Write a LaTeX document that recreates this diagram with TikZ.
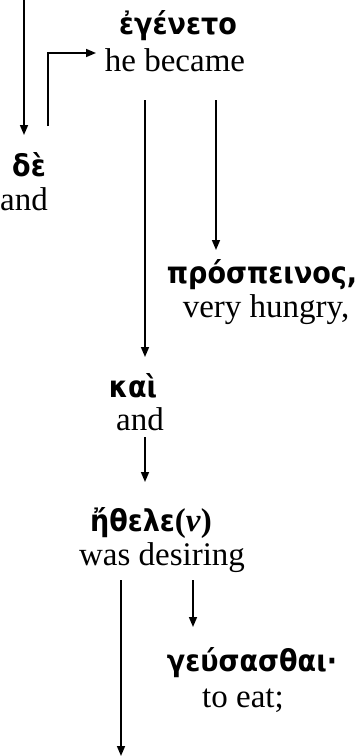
\documentclass[tikz,border=0pt]{standalone}
\usepackage{fontspec}
\setmainfont{Liberation Serif}
\newfontfamily\grk{DejaVu Sans Condensed}
\usetikzlibrary{arrows.meta}
\begin{document}
\begin{tikzpicture}[x=1pt,y=-1pt,
  greek/.style={font=\grk\bfseries\fontsize{30}{32}\selectfont, inner sep=0pt, anchor=center},
  gloss/.style={font=\fontsize{33}{36}\selectfont, inner sep=0pt, anchor=center},
  arr/.style={line width=1.5pt, -{Triangle[length=10pt,width=8pt]}}]
\useasboundingbox (0,0) rectangle (359,756);

% words and glosses
\node[greek] (g1) at (178,26) {ἐγένετο};
\node[gloss] (e1) at (175,60) {he became};
\node[greek] (g2) at (29,165) {δὲ};
\node[gloss] (e2) at (24,199) {and};
\node[greek] (g3) at (262,275) {πρόσπεινος,};
\node[gloss] (e3) at (266,310) {very hungry,};
\node[greek] (g4) at (133,386) {καὶ};
\node[gloss] (e4) at (140,419) {and};
\node[greek] (g5) at (151,523) {ἤθελε{\fontspec{Liberation Serif}\fontsize{33}{36}\selectfont(\textbf{\textit{ν}})}};
\node[gloss] (e5) at (162,558) {was desiring};
\node[greek] (g6) at (252,663) {γεύσασθαι·};
\node[gloss] (e6) at (243,701) {to eat;};

% connector end points
\coordinate (top) at (24,0);
\coordinate (deIn) at (24,135);
\coordinate (deOut) at (48,126);
\coordinate (becIn) at (96,53);
\coordinate (becA) at (145,100);
\coordinate (kaiIn) at (145,357);
\coordinate (becB) at (216,100);
\coordinate (prosIn) at (216,250);
\coordinate (kaiOut) at (145,437);
\coordinate (ethIn) at (145,482);
\coordinate (ethA) at (121,580);
\coordinate (endIn) at (121,756);
\coordinate (ethB) at (193,580);
\coordinate (geuIn) at (193,627);

% connectors
\draw[arr] (top) -- (deIn);
\draw[arr] (deOut) |- (becIn);
\draw[arr] (becA) -- (kaiIn);
\draw[arr] (becB) -- (prosIn);
\draw[arr] (kaiOut) -- (ethIn);
\draw[arr] (ethA) -- (endIn);
\draw[arr] (ethB) -- (geuIn);
\end{tikzpicture}
\end{document}
